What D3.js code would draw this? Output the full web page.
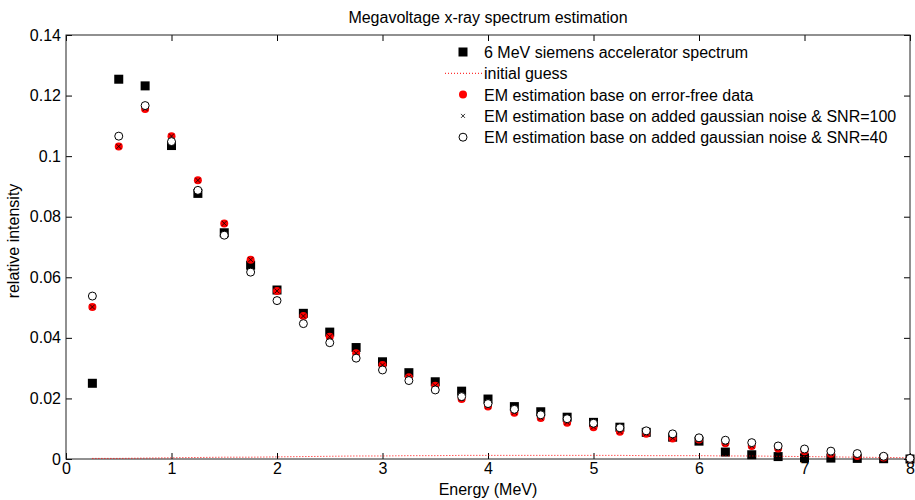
<!DOCTYPE html>
<html>
<head>
<meta charset="utf-8">
<script src="https://d3js.org/d3.v7.min.js"></script>
<style>
body { margin: 0; background: #fff; }
text { font-family: "Liberation Sans", Arial, sans-serif; }
</style>
</head>
<body>
<script>
// energy bins (MeV)
var energy = [0.25,0.5,0.75,1,1.25,1.5,1.75,2,2.25,2.5,2.75,3,3.25,3.5,3.75,4,
  4.25,4.5,4.75,5,5.25,5.5,5.75,6,6.25,6.5,6.75,7,7.25,7.5,7.75,8];

// 6 MeV siemens accelerator spectrum
var spectrum = [0.025,0.1254,0.1232,0.1035,0.0877,0.0747,0.064,0.0558,0.0481,0.0419,0.0368,0.0321,
  0.0285,0.0255,0.0224,0.0198,0.0173,0.0156,0.0138,0.0121,0.0105,0.0088,0.0072,0.0059,
  0.0023,0.0014,0.0008,0.0004,0.0003,0.0002,0.0001,0.0];

var initialGuess = [0.0002,0.0002,0.0003,0.0004,0.0005,0.0006,0.0006,0.0007,0.0008,0.0009,0.001,0.001,
  0.0011,0.0011,0.0012,0.0012,0.0012,0.0012,0.0012,0.0012,0.0012,0.0011,0.0011,0.0011,
  0.001,0.001,0.0009,0.0008,0.0007,0.0006,0.0005,0.0004];

// EM estimation, error-free data
var emFree = [0.0502,0.1032,0.1156,0.1066,0.092,0.0778,0.0658,0.0555,0.0472,0.0404,0.0349,0.031,
  0.027,0.0242,0.0198,0.0173,0.0153,0.0135,0.012,0.0105,0.009,0.0083,0.0068,0.0064,
  0.0052,0.0043,0.0035,0.0026,0.0017,0.001,0.0005,0.0001];

// EM estimation, SNR=100
var emSnr100 = [0.0502,0.1032,0.1157,0.1066,0.092,0.0778,0.0658,0.0555,0.0472,0.0404,0.0349,0.031,
  0.027,0.0242,0.0199,0.0174,0.0154,0.0136,0.0121,0.0106,0.0091,0.0083,0.0069,0.0064,
  0.0052,0.0043,0.0035,0.0026,0.0017,0.001,0.0005,0.0001];

// EM estimation, SNR=40
var emSnr40 = [0.0538,0.1066,0.1167,0.1048,0.0887,0.0739,0.0617,0.0523,0.0447,0.0384,0.0333,0.0294,
  0.0259,0.0228,0.0206,0.0183,0.0164,0.0146,0.0133,0.0118,0.0103,0.0093,0.0083,0.007,
  0.0062,0.0054,0.0043,0.0033,0.0026,0.0018,0.0009,0.0002];

var xTicks = [0,1,2,3,4,5,6,7,8];
var yTicks = [0,0.02,0.04,0.06,0.08,0.1,0.12,0.14];
var legendLabels = ["6 MeV siemens accelerator spectrum", "initial guess",
  "EM estimation base on error-free data",
  "EM estimation base on added gaussian noise & SNR=100",
  "EM estimation base on added gaussian noise & SNR=40"];

var W = 915, H = 500;
var m = {left: 66, right: 5, top: 35, bottom: 41};
var x0 = m.left, x1 = W - m.right, y0 = H - m.bottom, y1 = m.top;
var fs = 16;

var svg = d3.select("body").append("svg").attr("width", W).attr("height", H);

var x = d3.scaleLinear().domain([0, 8]).range([x0, x1]);
var y = d3.scaleLinear().domain([0, 0.14]).range([y0, y1]);

// axes, MATLAB style: ticks inward on all sides
var tl = 6;
svg.append("g").attr("transform", "translate(0," + y0 + ")")
  .call(d3.axisBottom(x).tickValues(xTicks).tickSize(-tl).tickPadding(4).tickFormat(d3.format("d")));
svg.append("g").attr("transform", "translate(0," + y1 + ")")
  .call(d3.axisTop(x).tickValues(xTicks).tickSize(-tl).tickFormat(""));
svg.append("g").attr("transform", "translate(" + x0 + ",0)")
  .call(d3.axisLeft(y).tickValues(yTicks).tickSize(-tl).tickPadding(5).tickFormat(function(d){ return d === 0 ? "0" : d3.format("")(+d.toFixed(2)); }));
svg.append("g").attr("transform", "translate(" + x1 + ",0)")
  .call(d3.axisRight(y).tickValues(yTicks).tickSize(-tl).tickFormat(""));
svg.selectAll(".domain").remove();
svg.selectAll(".tick line").attr("stroke", "#000");
svg.selectAll(".tick text").attr("font-size", fs).attr("fill", "#000")
  .attr("font-family", "Liberation Sans, Arial, sans-serif");
svg.append("rect").attr("x", x0).attr("y", y1).attr("width", x1 - x0).attr("height", y0 - y1)
  .attr("fill", "none").attr("stroke", "#222").attr("stroke-width", 1);

// marks
var plot = svg.append("g");
var sq = 9;
plot.selectAll(".sq").data(energy).enter().append("rect")
  .attr("x", function(d){ return x(d) - sq / 2; })
  .attr("y", function(d, i){ return y(spectrum[i]) - sq / 2; })
  .attr("width", sq).attr("height", sq).attr("fill", "#000");

var line = d3.line().x(function(d){ return x(d[0]); }).y(function(d){ return y(d[1]); });
plot.append("path").datum(d3.zip(energy, initialGuess)).attr("d", line)
  .attr("fill", "none").attr("stroke", "#f00").attr("stroke-width", 1).attr("stroke-dasharray", "1,2");

plot.selectAll(".red").data(energy).enter().append("circle")
  .attr("cx", function(d){ return x(d); })
  .attr("cy", function(d, i){ return y(emFree[i]); })
  .attr("r", 4).attr("fill", "#f00");

var xs = 2.5;
plot.selectAll(".xm").data(energy).enter().append("path")
  .attr("d", function(d, i){
    var cx = x(d), cy = y(emSnr100[i]);
    return "M" + (cx - xs) + "," + (cy - xs) + "L" + (cx + xs) + "," + (cy + xs) +
      "M" + (cx - xs) + "," + (cy + xs) + "L" + (cx + xs) + "," + (cy - xs);
  })
  .attr("stroke", "#000").attr("stroke-width", 0.8);

plot.selectAll(".oc").data(energy).enter().append("circle")
  .attr("cx", function(d){ return x(d); })
  .attr("cy", function(d, i){ return y(emSnr40[i]); })
  .attr("r", 4).attr("fill", "#fff").attr("stroke", "#000").attr("stroke-width", 1);

// legend
var lg = svg.append("g").attr("transform", "translate(463,52)");
var dy = 21.3;
lg.append("rect").attr("x", -4.5).attr("y", -4.5).attr("width", sq).attr("height", sq).attr("fill", "#000");
lg.append("line").attr("x1", -18).attr("x2", 19).attr("y1", dy).attr("y2", dy)
  .attr("stroke", "#f00").attr("stroke-dasharray", "1,2");
lg.append("circle").attr("cy", 2 * dy).attr("r", 4).attr("fill", "#f00");
lg.append("path").attr("d", "M-2,"+(3*dy-2)+"L2,"+(3*dy+2)+"M-2,"+(3*dy+2)+"L2,"+(3*dy-2))
  .attr("stroke", "#000").attr("stroke-width", 0.8);
lg.append("circle").attr("cy", 4 * dy).attr("r", 4).attr("fill", "#fff").attr("stroke", "#000");
lg.selectAll(".lt").data(legendLabels).enter().append("text")
  .attr("x", 21).attr("y", function(d, i){ return i * dy; }).attr("dy", "0.38em")
  .attr("font-size", fs).text(function(d){ return d; });

// titles
svg.append("text").attr("x", (x0 + x1) / 2).attr("y", 23).attr("text-anchor", "middle")
  .attr("font-size", fs).text("Megavoltage x-ray spectrum estimation");
svg.append("text").attr("x", (x0 + x1) / 2).attr("y", 495).attr("text-anchor", "middle")
  .attr("font-size", fs).text("Energy (MeV)");
svg.append("text").attr("transform", "translate(19,241) rotate(-90)")
  .attr("text-anchor", "middle").attr("font-size", fs).text("relative intensity");
</script>
</body>
</html>
